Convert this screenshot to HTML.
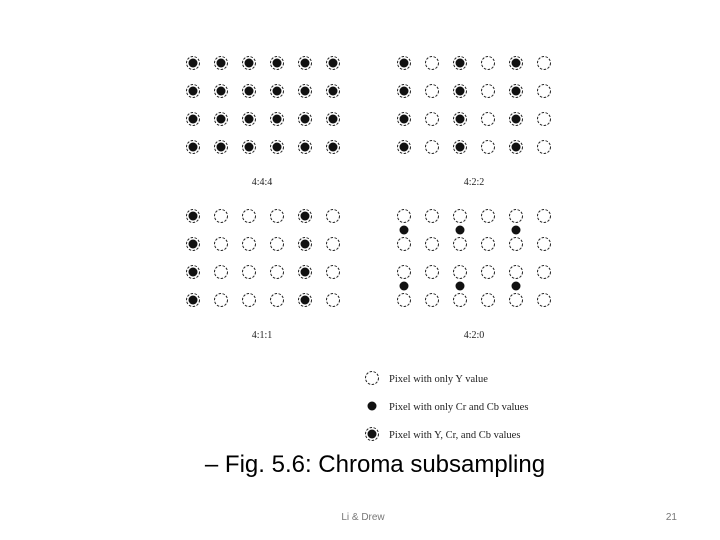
<!DOCTYPE html>
<html><head><meta charset="utf-8"><style>
html,body{margin:0;padding:0;background:#fff;}
body{width:720px;height:540px;overflow:hidden;position:relative;}
svg{position:absolute;left:0;top:0;}
</style></head><body>
<svg width="720" height="540" viewBox="0 0 720 540" xmlns="http://www.w3.org/2000/svg">
<defs>
<g id="o"><circle r="6.5" fill="none" stroke="#222" stroke-width="1" stroke-dasharray="2.5 1.5"/></g>
<g id="d"><circle r="4.5" fill="#111"/></g>
<g id="b"><use href="#o"/><use href="#d"/></g>
<g id="rf"><use href="#b" x="0"/><use href="#b" x="28"/><use href="#b" x="56"/><use href="#b" x="84"/><use href="#b" x="112"/><use href="#b" x="140"/></g>
<g id="r2"><use href="#b" x="0"/><use href="#o" x="28"/><use href="#b" x="56"/><use href="#o" x="84"/><use href="#b" x="112"/><use href="#o" x="140"/></g>
<g id="r1"><use href="#b" x="0"/><use href="#o" x="28"/><use href="#o" x="56"/><use href="#o" x="84"/><use href="#b" x="112"/><use href="#o" x="140"/></g>
<g id="r0"><use href="#o" x="0"/><use href="#o" x="28"/><use href="#o" x="56"/><use href="#o" x="84"/><use href="#o" x="112"/><use href="#o" x="140"/></g>
</defs>
<g transform="translate(193,0)">
<use href="#rf" y="63"/><use href="#rf" y="91"/><use href="#rf" y="119"/><use href="#rf" y="147"/>
<use href="#r1" y="216"/><use href="#r1" y="244"/><use href="#r1" y="272"/><use href="#r1" y="300"/>
</g>
<g transform="translate(404,0)">
<use href="#r2" y="63"/><use href="#r2" y="91"/><use href="#r2" y="119"/><use href="#r2" y="147"/>
<use href="#r0" y="216"/><use href="#r0" y="244"/><use href="#r0" y="272"/><use href="#r0" y="300"/>
<use href="#d" x="0" y="230"/><use href="#d" x="56" y="230"/><use href="#d" x="112" y="230"/>
<use href="#d" x="0" y="286"/><use href="#d" x="56" y="286"/><use href="#d" x="112" y="286"/>
</g>
<g font-family="Liberation Serif, serif" font-size="10" fill="#222" text-anchor="middle">
<text x="262" y="185">4:4:4</text><text x="474" y="185">4:2:2</text>
<text x="262" y="338">4:1:1</text><text x="474" y="338">4:2:0</text>
</g>
<use href="#o" x="372" y="378"/><use href="#d" x="372" y="406"/><use href="#b" x="372" y="434"/>
<g font-family="Liberation Serif, serif" font-size="10.5" fill="#222">
<text x="389" y="382">Pixel with only Y value</text>
<text x="389" y="410">Pixel with only Cr and Cb values</text>
<text x="389" y="438">Pixel with Y, Cr, and Cb values</text>
</g>
<text x="375" y="472" text-anchor="middle" font-family="Liberation Sans, sans-serif" font-size="24" fill="#000">– Fig. 5.6: Chroma subsampling</text>
<text x="363" y="520" text-anchor="middle" font-family="Liberation Sans, sans-serif" font-size="10" fill="#777">Li &amp; Drew</text>
<text x="677" y="520" text-anchor="end" font-family="Liberation Sans, sans-serif" font-size="10" fill="#777">21</text>
</svg>
</body></html>
